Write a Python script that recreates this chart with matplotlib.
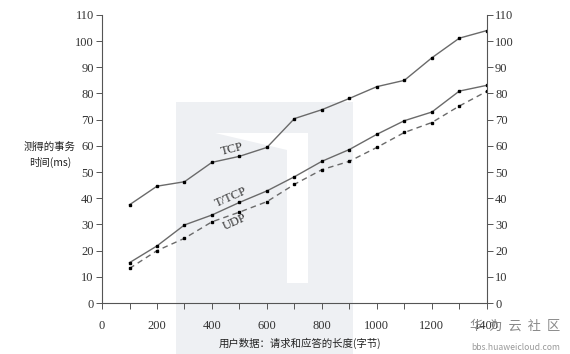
import numpy as np
import matplotlib.pyplot as plt
from matplotlib.patches import Rectangle, Polygon

# request/reply size in bytes
sizes = [100, 200, 300, 400, 500, 600, 700, 800, 900, 1000, 1100, 1200, 1300, 1400]
tcp = [37.5, 44.6, 46.3, 53.7, 56.0, 59.4, 70.4, 73.8, 78.1, 82.6, 85.0, 93.6, 101.1, 104.0]
ttcp = [15.4, 21.8, 29.8, 33.6, 38.4, 42.8, 48.2, 54.1, 58.6, 64.4, 69.6, 72.9, 80.9, 83.1]
udp = [13.2, 20.0, 24.7, 31.0, 34.7, 38.7, 45.3, 50.9, 54.1, 59.4, 65.1, 68.9, 75.2, 80.8]

xticks = [0, 200, 400, 600, 800, 1000, 1200, 1400]
yticks = list(range(0, 111, 10))

serif = ['Liberation Serif', 'DejaVu Serif']
cjk = ['Noto Sans CJK SC', 'DejaVu Sans']

W, H = 570, 354
fig = plt.figure(figsize=(5.7, 3.54), dpi=100)

# faint watermark block behind the plot
fig.patches.append(Rectangle((176/W, 0), 177/W, 1 - 102/H, transform=fig.transFigure,
                             facecolor='#eef0f3', edgecolor='none', zorder=-2))
fig.patches.append(Rectangle((287/W, 1 - 283/H), 21/W, 150/H, transform=fig.transFigure,
                             facecolor='white', edgecolor='none', zorder=-1))
fig.patches.append(Polygon([(215/W, 1 - 133/H), (308/W, 1 - 133/H), (287/W, 1 - 150/H)],
                           closed=True, transform=fig.transFigure,
                           facecolor='white', edgecolor='none', zorder=-1))

ax = fig.add_axes([0.179, 0.144, 0.675, 0.814])
ax.patch.set_alpha(0)
ax.set_zorder(1)

style = dict(color='#6a6a6a', lw=1.0, marker='s', ms=2, mfc='black', mec='black')
ax.plot(sizes, tcp, **style)
ax.plot(sizes, ttcp, **style)
ax.plot(sizes, udp, ls=(0, (4, 3)), **style)

ax.text(475, 58.5, 'TCP', rotation=14, fontsize=9, family=serif, color='#333333', ha='center', va='center')
ax.text(470, 40.3, 'T/TCP', rotation=24, fontsize=9, family=serif, color='#333333', ha='center', va='center')
ax.text(482, 31.0, 'UDP', rotation=24, fontsize=9, family=serif, color='#333333', ha='center', va='center')

ax.set_xlim(0, 1400)
ax.set_ylim(0, 110)
ax.set_xticks(xticks)
ax.set_xticks(sizes, minor=True)
ax.set_yticks(yticks)

ax.spines['top'].set_visible(False)
for s in ['left', 'right', 'bottom']:
    ax.spines[s].set_color('#555555')
    ax.spines[s].set_linewidth(0.8)

ax.tick_params(axis='both', which='both', colors='#555555', labelcolor='#333333', labelsize=9, width=0.7)
ax.tick_params(axis='x', which='both', length=4, pad=8)
ax.tick_params(axis='y', length=4, pad=2, right=True, labelright=True)
for lab in ax.get_xticklabels() + ax.get_yticklabels():
    lab.set_family(serif)

fig.text(50/W, 1 - 155/H, '测得的事务\n时间(ms)', family=cjk, fontsize=7.5,
         ha='center', va='center', color='#222222', linespacing=1.6)
fig.text(300/W, 1 - 343/H, '用户数据：请求和应答的长度(字节)', family=cjk, fontsize=7.5,
         ha='center', va='center', color='#222222')

# site watermark at the corner
fig.text(515/W, 1 - 326/H, '华  为  云  社  区', family=cjk, fontsize=9.5,
         ha='center', va='center', color='#8a8a8a')
fig.text(516/W, 1 - 348/H, 'bbs.huaweicloud.com', family=cjk, fontsize=6.2,
         ha='center', va='center', color='#9a9a9a')

fig.savefig('out.png', dpi=100)
